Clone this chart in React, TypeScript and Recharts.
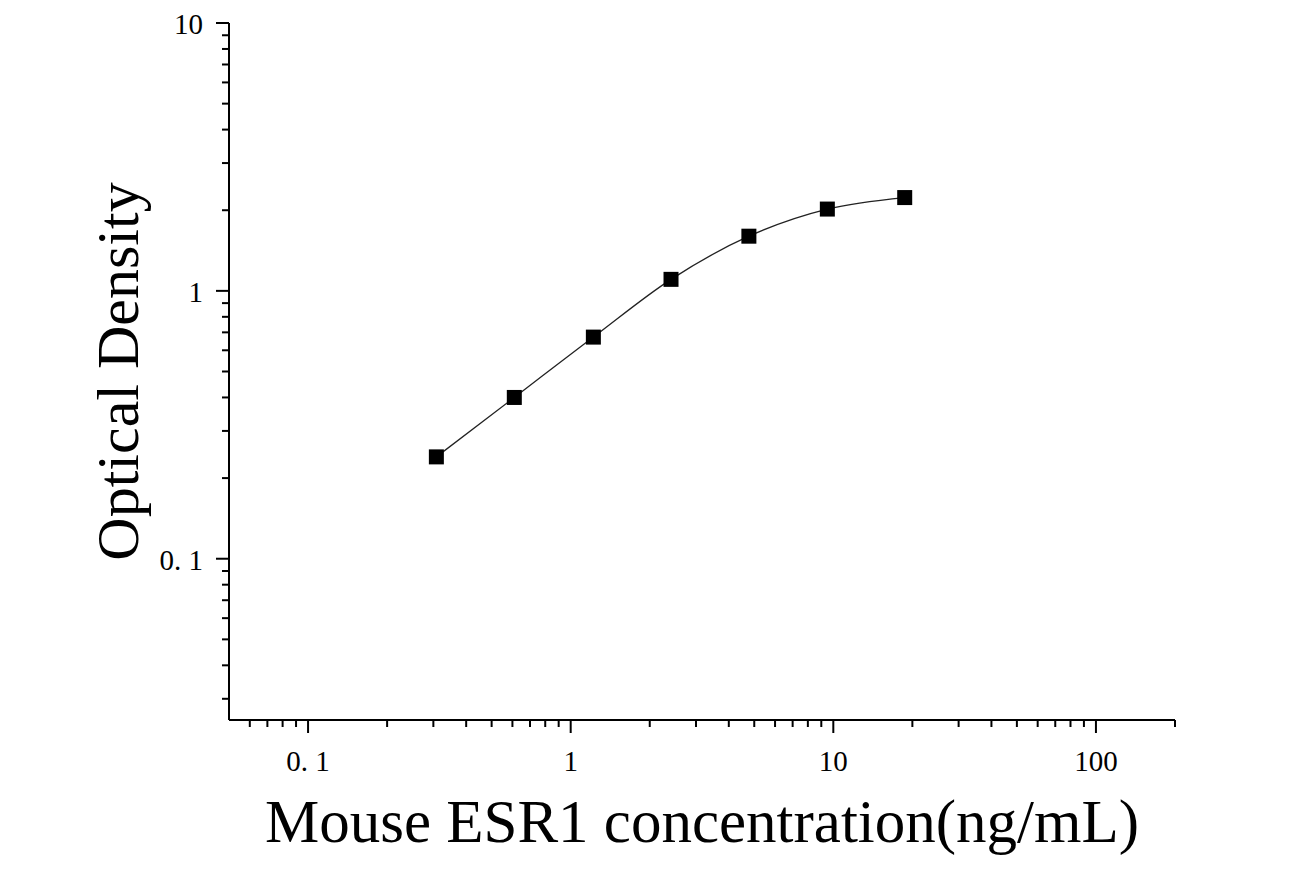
import { LineChart, Line, XAxis, YAxis, Label } from "recharts";

// standard curve readings
const concentration = [0.308, 0.61, 1.22, 2.41, 4.77, 9.49, 18.7];
const opticalDensity = [0.24, 0.4, 0.672, 1.104, 1.6, 2.02, 2.23];

const xMajorTicks = [0.1, 1, 10, 100];
const xMajorLabels = ["0. 1", "1", "10", "100"];
const xMinorTicks = [
  0.06, 0.07, 0.08, 0.09,
  0.2, 0.3, 0.4, 0.5, 0.6, 0.7, 0.8, 0.9,
  2, 3, 4, 5, 6, 7, 8, 9,
  20, 30, 40, 50, 60, 70, 80, 90,
  200,
];

const yMajorTicks = [0.1, 1, 10];
const yMajorLabels = ["0. 1", "1", "10"];
const yMinorTicks = [
  0.03, 0.04, 0.05, 0.06, 0.07, 0.08, 0.09,
  0.2, 0.3, 0.4, 0.5, 0.6, 0.7, 0.8, 0.9,
  2, 3, 4, 5, 6, 7, 8, 9,
];

const chartData = concentration.map((c, i) => ({ conc: c, od: opticalDensity[i] }));

const FONT = "'Liberation Serif', 'Times New Roman', serif";

const XTick = ({ x, y, payload }: any) => {
  const idx = xMajorTicks.indexOf(payload.value);
  const major = idx >= 0;
  return (
    <g>
      <line x1={x} x2={x} y1={y} y2={y + (major ? 13 : 7)} stroke="#000" strokeWidth={2} />
      {major && (
        <text x={x} y={y + 51} textAnchor="middle" fontFamily={FONT} fontSize={29} fill="#000">
          {xMajorLabels[idx]}
        </text>
      )}
    </g>
  );
};

const YTick = ({ x, y, payload }: any) => {
  const idx = yMajorTicks.indexOf(payload.value);
  const major = idx >= 0;
  return (
    <g>
      <line x1={x} x2={x - (major ? 13 : 7)} y1={y} y2={y} stroke="#000" strokeWidth={2} />
      {major && (
        <text x={x - 26} y={y + 11} textAnchor="end" fontFamily={FONT} fontSize={29} fill="#000">
          {yMajorLabels[idx]}
        </text>
      )}
    </g>
  );
};

const SquareDot = ({ cx, cy, index }: any) => (
  <rect key={`pt-${index}`} x={cx - 7.5} y={cy - 7.5} width={15} height={15} fill="#000" />
);

export default function App() {
  return (
    <div style={{ position: "absolute", left: 0, top: 0, background: "#fff" }}>
      <LineChart
        width={1305}
        height={871}
        data={chartData}
        margin={{ top: 23, right: 130, bottom: 0, left: 0 }}
      >
        <XAxis
          dataKey="conc"
          type="number"
          scale="log"
          domain={[0.05, 200]}
          allowDataOverflow
          ticks={[...xMinorTicks, ...xMajorTicks].sort((a, b) => a - b)}
          interval={0}
          height={151}
          tickSize={0}
          tickMargin={0}
          tickLine={false}
          tick={<XTick />}
          axisLine={{ stroke: "#000", strokeWidth: 2 }}
        >
          <Label
            content={({ viewBox }: any) => (
              <text
                x={viewBox.x + viewBox.width / 2}
                y={viewBox.y + 122}
                textAnchor="middle"
                fontFamily={FONT}
                fontSize={61}
                fill="#000"
              >
                Mouse ESR1 concentration(ng/mL)
              </text>
            )}
          />
        </XAxis>
        <YAxis
          dataKey="od"
          type="number"
          scale="log"
          domain={[0.025, 10]}
          allowDataOverflow
          ticks={[...yMinorTicks, ...yMajorTicks].sort((a, b) => a - b)}
          interval={0}
          width={229}
          tickSize={0}
          tickMargin={0}
          tickLine={false}
          tick={<YTick />}
          axisLine={{ stroke: "#000", strokeWidth: 2 }}
        >
          <Label
            content={({ viewBox }: any) => {
              const cx = viewBox.x + 138;
              const cy = viewBox.y + viewBox.height / 2;
              return (
                <text
                  x={cx}
                  y={cy}
                  transform={`rotate(-90 ${cx} ${cy})`}
                  textAnchor="middle"
                  fontFamily={FONT}
                  fontSize={60}
                  fill="#000"
                >
                  Optical Density
                </text>
              );
            }}
          />
        </YAxis>
        <Line
          dataKey="od"
          type="monotone"
          stroke="#222"
          strokeWidth={1.3}
          dot={<SquareDot />}
          activeDot={false}
          isAnimationActive={false}
        />
      </LineChart>
    </div>
  );
}
